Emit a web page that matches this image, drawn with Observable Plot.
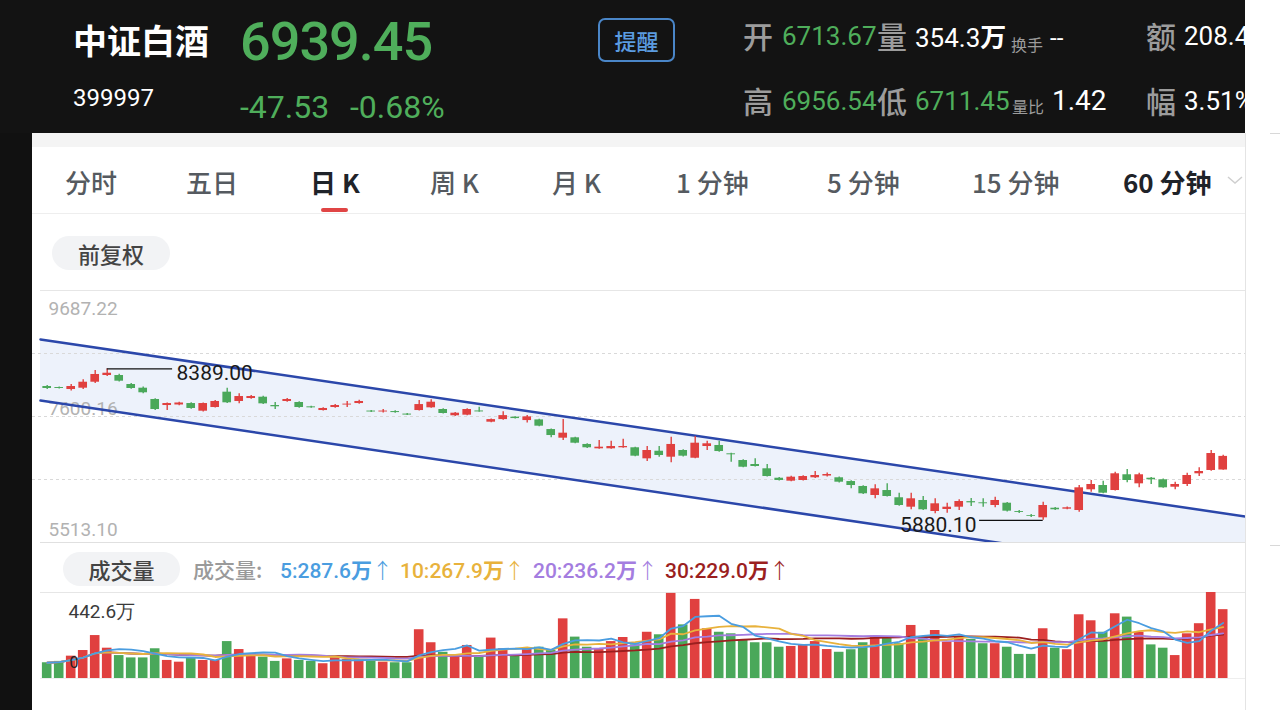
<!DOCTYPE html>
<html><head><meta charset="utf-8">
<script src="https://cdn.jsdelivr.net/npm/d3@7"></script>
<script src="https://cdn.jsdelivr.net/npm/@observablehq/plot@0.6"></script>
<style>
html,body{margin:0;padding:0;}
body{width:1280px;height:710px;position:relative;overflow:hidden;background:#fff;font-family:Roboto,"Noto Sans CJK SC",sans-serif;}
.abs{position:absolute;white-space:nowrap;}
.cjk{font-family:"Noto Sans CJK SC",sans-serif;}
.pill{position:absolute;background:#f2f3f5;color:#444;font-family:"Noto Sans CJK SC",sans-serif;font-weight:500;text-align:center;}
</style>
</head><body>
<div id="root"></div>
<script>
// ---------- data ----------
const stockName = "中证白酒";
const stockCode = "399997";
const lastPrice = "6939.45";
const change = "-47.53";
const changePct = "-0.68%";
const tabs = ["分时","五日","日K","周K","月K","1分钟","5分钟","15分钟","60分钟"];
const volLegend = ["5:287.6万↑","10:267.9万↑","20:236.2万↑","30:229.0万↑"];

const open = [8097,8080,8047,8069,8168,8279,8279,8130,8069,7882,
7782,7791,7815,7688,7749,8003,7849,7898,7920,7782,
7849,7832,7760,7699,7749,7790,7815,7690,7675,7682,
7640,7699,7744,7716,7612,7622,7692,7506,7549,7589,
7533,7544,7384,7241,7247,7137,7065,7065,7082,7082,
6899,7025,6926,7037,6909,7103,7120,6982,6871,6805,
6734,6578,6529,6540,6585,6614,6585,6523,6441,6292,
6374,6254,6098,6209,6027,6060,6098,6190,6170,6126,
6164,6025,5958,5922,6081,6065,6043,6386,6457,6374,
6635,6485,6578,6552,6429,6474,6651,6706,6713.67];
const close = [8064,8064,8097,8168,8296,8317,8185,8064,7993,7716,
7815,7824,7733,7815,7849,7827,7931,7931,7810,7761,
7882,7749,7744,7733,7782,7805,7849,7675,7690,7665,
7624,7798,7837,7650,7655,7716,7676,7549,7615,7566,
7594,7440,7285,7324,7158,7082,7092,7103,7103,6943,
7037,6954,7137,6943,7158,7148,7020,6966,6760,6772,
6606,6540,6595,6606,6623,6639,6512,6457,6320,6402,
6275,6126,6237,6055,6154,6098,6192,6170,6155,6209,
6032,6010,5945,6126,6055,6088,6419,6474,6330,6651,
6540,6635,6552,6419,6474,6623,6689,6987,6939.45];
const high = [8114,8090,8130,8208,8362,8389,8300,8145,8090,7895,
7822,7835,7828,7825,7865,8069,7976,7950,7935,7832,
7900,7845,7770,7745,7800,7849,7870,7698,7715,7695,
7648,7865,7877,7728,7665,7728,7754,7560,7677,7598,
7615,7555,7395,7549,7258,7148,7203,7191,7224,7092,
7103,7103,7257,7050,7269,7191,7191,6990,6882,6899,
6805,6588,6610,6620,6689,6665,6598,6535,6452,6468,
6485,6330,6330,6275,6237,6164,6220,6242,6237,6264,
6175,6045,5975,6181,6092,6100,6457,6540,6529,6678,
6722,6661,6588,6565,6512,6661,6750,7037,6956.54];
const low = [8047,8055,8022,8047,8147,8263,8170,8050,7975,7700,
7699,7780,7720,7675,7740,7815,7810,7885,7800,7716,
7835,7738,7735,7690,7738,7749,7805,7668,7660,7655,
7615,7690,7735,7640,7600,7612,7670,7495,7540,7558,
7494,7430,7247,7203,7148,7072,7058,7058,7075,6935,
6855,6926,6833,6930,6900,7037,7010,6843,6750,6765,
6598,6532,6518,6530,6575,6600,6500,6402,6310,6237,
6265,6115,6055,6045,5988,5998,6043,6110,6098,6088,
6020,5995,5928,5880.10,6045,6055,6015,6346,6320,6365,
6502,6419,6474,6410,6386,6441,6606,6695,6711.45];
// volume, 万
const volume = [81,88,115,144,221,156,118,106,106,153,
93,84,105,93,93,190,149,127,110,88,
101,93,88,76,110,98,98,98,84,81,
81,251,184,135,110,170,118,208,153,122,
156,161,144,307,213,161,153,190,211,173,
238,225,438,276,407,256,238,230,196,184,
184,161,165,173,190,149,135,148,184,218,
213,179,273,213,247,187,213,201,179,179,
161,124,124,256,156,148,328,297,238,333,
316,238,173,156,118,230,282,442.6,354.3];

const priceTicks = [9687.22, 7600.16, 5513.10];
const priceGrid = [8643.69, 7600.16, 6556.63];
const volMax = 442.6;
// trend channel endpoints (candle index, price)
const channelX = [-0.56, 99.86];
const channelUpper = [8876, 5944];
const channelLower = [7865, 4902];

// ---------- build ----------
const RED = "#e0403f", GREEN = "#4aa85a", HGREEN = "#4fae5b";
const candles = open.map((o, i) => ({i, open:o, close:close[i], high:high[i], low:low[i], vol:volume[i], up: close[i] >= o}));
const channel = channelX.map((x, k) => ({i:x, upper:channelUpper[k], lower:channelLower[k]}));
const maxI = d3.maxIndex(high), minI = d3.minIndex(low);

const root = document.getElementById("root");
function el(html){ const t=document.createElement("div"); t.innerHTML=html; const n=t.firstElementChild; root.appendChild(n); return n; }
function txt(s, x, cy, size, color, opts={}){
  const h = Math.round(size*1.4);
  return el(`<div class="abs ${opts.cjk?'cjk':''}" style="left:${x}px;top:${cy-h/2}px;height:${h}px;line-height:${h}px;font-size:${size}px;color:${color};font-weight:${opts.w||400};letter-spacing:${opts.ls||0}px;${opts.extra||''}">${s}</div>`);
}
function box(x,y,w,h,bg,extra=''){ return el(`<div class="abs" style="left:${x}px;top:${y}px;width:${w}px;height:${h}px;background:${bg};${extra}"></div>`); }

// frame
box(0,0,32,710,"#111");
const header = box(0,0,1245,133,"#131313","overflow:hidden;");
box(1245,133,1,577,"#e4e4e4");
box(1270,133,10,1,"#d8d8d8"); box(1270,545,10,1,"#d8d8d8");

function htxt(s,x,cy,size,color,opts={}){ const n=txt(s,x,cy,size,color,opts); header.appendChild(n); return n; }
htxt(stockName,73,40,34,"#fff",{cjk:1,w:700});
htxt(lastPrice,240,42,54,HGREEN,{w:500,ls:-1});
htxt(stockCode,73,98,24,"#fff");
htxt(change,240,107,32,HGREEN);
htxt(changePct,350,107,32,HGREEN);
const btn = el(`<div class="abs cjk" style="left:598px;top:18px;width:73px;height:40px;border:2px solid #4a86c8;border-radius:7px;color:#5b9be0;font-size:22px;line-height:40px;text-align:center;font-weight:500;">提醒</div>`);
header.appendChild(btn);
const G="#9c9c9c";
htxt("开",743,35,30,G,{cjk:1,w:500}); htxt("6713.67",782,36,26,HGREEN);
htxt("量",877,35,30,G,{cjk:1,w:500}); htxt("354.3<span style='font-family:Noto Sans CJK SC;font-weight:700'>万</span>",915,36,26,"#fff");
htxt("换手",1011,44,16,G,{cjk:1}); htxt("--",1050,38,24,"#fff");
htxt("额",1146,35,30,G,{cjk:1,w:500}); htxt("208.4",1184,36,26,"#fff");
htxt("高",743,100,30,G,{cjk:1,w:500}); htxt("6956.54",782,101,26,HGREEN);
htxt("低",877,100,30,G,{cjk:1,w:500}); htxt("6711.45",915,101,26,HGREEN);
htxt("量比",1012,106,16,G,{cjk:1}); htxt("1.42",1052,100,28,"#fff");
htxt("幅",1146,100,30,G,{cjk:1,w:500}); htxt("3.51%",1184,101,26,"#fff");

// tabs
box(32,133,1213,14,"#f4f4f4");
box(32,213,1213,1,"#eeeeee");
const tabX = [65,186,310,430,552,676,827,972,1123];
tabs.forEach((t,k)=>{
  const sel = (k===2||k===8);
  txt(t.replace(/^(\d+)/,"$1 ").replace("K"," K"),tabX[k],182,26,sel?"#1f2329":"#555a60",{cjk:1,w:sel?700:500});
});
box(321,208,27,4,"#e04545","border-radius:2px;");
el(`<svg class="abs" style="left:1226px;top:174px" width="18" height="12"><polyline points="2,3 9,9 16,3" fill="none" stroke="#cfcfcf" stroke-width="1.5"/></svg>`);

// pills
el(`<div class="pill" style="left:52px;top:236px;width:118px;height:34px;line-height:34px;border-radius:17px;font-size:22px;">前复权</div>`);
el(`<div class="pill" style="left:63px;top:552px;width:117px;height:34px;line-height:34px;border-radius:17px;font-size:22px;">成交量</div>`);

// panel borders
box(40,290,1205,1,"#e6e6e6");
box(40,542,1205,1,"#e0e0e0");
box(40,592,1205,1,"#e6e6e6");
box(40,678,1205,1,"#eeeeee");

// volume legend
txt("成交量:",193,569,21,"#9a9a9a",{cjk:1,w:500});
const legColors=["#4a9de0","#e8b23c","#a47de0","#9b1f1f"];
const legX=[280,400,533,665];
volLegend.forEach((s,k)=>txt(s.replace("万","<span class='cjk' style='font-weight:700'>万</span>").replace("↑","<span style='font-weight:300'>↑</span>"),legX[k],569,21,legColors[k],{w:500}));

// ---------- price chart ----------
const xDomain = [-1.225, 99.858];
const W = 1213;
const price = Plot.plot({
  width: W, height: 252, margin: 0,
  x: {domain: xDomain, axis: null},
  y: {domain: [5513.10, 9687.22], axis: null},
  style: {background: "transparent", overflow: "visible", fontFamily: "Roboto"},
  marks: [
    Plot.areaY(channel, {x: "i", y1: "lower", y2: "upper", fill: "#edf2fb", clip: true}),
    Plot.ruleY(priceGrid, {stroke: "#d9d9d9", strokeDasharray: "3,3"}),
    ...priceTicks.map((v,k)=>Plot.text([v], {y: d=>d, text: d=>d.toFixed(2), frameAnchor: "left", dx: 16, dy: [18,-8,-13][k], fill: "#b2b2b2", fontSize: 19, textAnchor: "start"})),
    Plot.line(channel, {x: "i", y: "upper", stroke: "#2b47aa", strokeWidth: 2.5, clip: true}),
    Plot.line(channel, {x: "i", y: "lower", stroke: "#2b47aa", strokeWidth: 2.5, clip: true}),
    Plot.ruleX(candles.filter(d=>d.up), {x: "i", y1: "low", y2: "high", stroke: RED, strokeWidth: 1.4}),
    Plot.ruleX(candles.filter(d=>!d.up), {x: "i", y1: "low", y2: "high", stroke: GREEN, strokeWidth: 1.4}),
    Plot.rect(candles.filter(d=>d.up), {x1: d=>d.i-0.36, x2: d=>d.i+0.36, y1: "open", y2: "close", fill: RED}),
    Plot.rect(candles.filter(d=>!d.up), {x1: d=>d.i-0.36, x2: d=>d.i+0.36, y1: "open", y2: "close", fill: GREEN}),
    // high / low annotations
    Plot.ruleY([candles[maxI]], {y: "high", x1: d=>d.i, x2: d=>d.i+5.45, stroke: "#111", strokeWidth: 1.3}),
    Plot.text([candles[maxI]], {y: "high", x: d=>d.i+5.78, text: d=>d.high.toFixed(2), textAnchor: "start", dy: 4, fontSize: 21, fill: "#1a1a1a"}),
    Plot.ruleY([candles[minI]], {y: "low", x1: d=>d.i-5.3, x2: d=>d.i, stroke: "#111", strokeWidth: 1.3}),
    Plot.text([candles[minI]], {y: "low", x: d=>d.i-5.56, text: d=>d.low.toFixed(2), textAnchor: "end", dy: 5, fontSize: 21, fill: "#1a1a1a"})
  ]
});
const pDiv = el(`<div class="abs" style="left:32px;top:290px;"></div>`);
pDiv.appendChild(price);

// ---------- volume chart ----------
const vol = Plot.plot({
  width: W, height: 86, margin: 0,
  x: {domain: xDomain, axis: null},
  y: {domain: [0, volMax], axis: null},
  style: {background: "transparent", overflow: "visible", fontFamily: "Roboto"},
  marks: [
    Plot.rectY(candles.filter(d=>d.up), {x1: d=>d.i-0.4, x2: d=>d.i+0.4, y: "vol", fill: RED}),
    Plot.rectY(candles.filter(d=>!d.up), {x1: d=>d.i-0.4, x2: d=>d.i+0.4, y: "vol", fill: GREEN}),
    Plot.lineY(candles, Plot.windowY({k: 30, anchor: "end"}, {x: "i", y: "vol", stroke: legColors[3], strokeWidth: 1.8})),
    Plot.lineY(candles, Plot.windowY({k: 20, anchor: "end"}, {x: "i", y: "vol", stroke: legColors[2], strokeWidth: 1.8})),
    Plot.lineY(candles, Plot.windowY({k: 10, anchor: "end"}, {x: "i", y: "vol", stroke: legColors[1], strokeWidth: 1.8})),
    Plot.lineY(candles, Plot.windowY({k: 5, anchor: "end"}, {x: "i", y: "vol", stroke: legColors[0], strokeWidth: 1.8})),
    Plot.text([volMax], {frameAnchor: "top-left", text: d=>d+"万", dx: 36, dy: 19, textAnchor: "start", lineAnchor: "middle", fontSize: 19, fill: "#3a3a3a"}),
    Plot.text([0], {frameAnchor: "bottom-left", text: d=>String(d), dx: 37, dy: -16, textAnchor: "start", lineAnchor: "middle", fontSize: 16, fill: "#222"})
  ]
});
const vDiv = el(`<div class="abs" style="left:32px;top:592px;"></div>`);
vDiv.appendChild(vol);
</script>
</body></html>
